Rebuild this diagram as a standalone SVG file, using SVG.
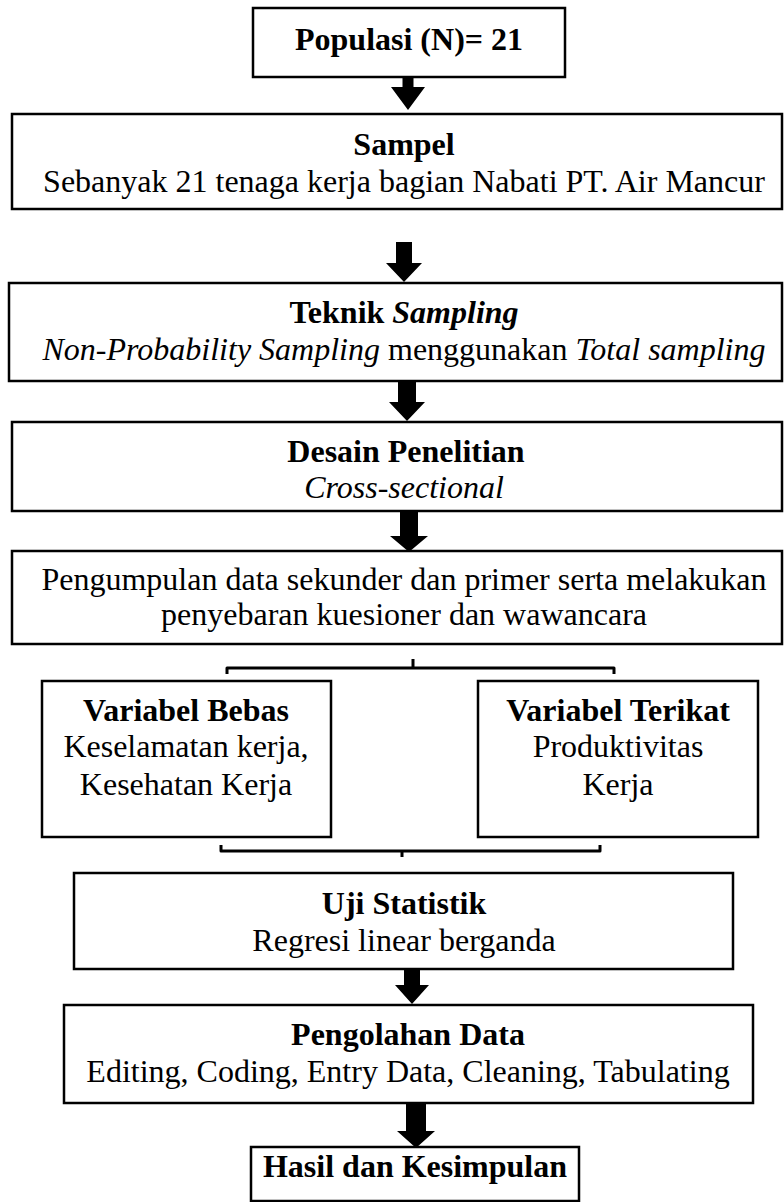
<svg xmlns="http://www.w3.org/2000/svg" width="784" height="1202" viewBox="0 0 784 1202">
<style>
.box{fill:#fff;stroke:#000;stroke-width:2.5}
.t{font-family:"Liberation Serif","Times New Roman",serif;font-size:32px;fill:#000;text-anchor:middle}
.b{font-weight:bold}
.i{font-style:italic}
.arr{fill:#000}
.br{fill:none;stroke:#000;stroke-width:3;stroke-linejoin:round}
</style>
<rect width="784" height="1202" fill="#fff"/>
<g id="n1"><rect class="box" x="253" y="8" width="312" height="69"/><text class="t b" x="409" y="50">Populasi (N)= 21</text></g>
<g id="n2"><rect class="box" x="12" y="114" width="770" height="95"/><text class="t b" x="404" y="155">Sampel</text><text class="t" x="404" y="192">Sebanyak 21 tenaga kerja bagian Nabati PT. Air Mancur</text></g>
<g id="n3"><rect class="box" x="9" y="283" width="773" height="98"/><text class="t b" x="404" y="323">Teknik <tspan class="i">Sampling</tspan></text><text class="t" x="404" y="360"><tspan class="i">Non-Probability Sampling</tspan> menggunakan <tspan class="i">Total sampling</tspan></text></g>
<g id="n4"><rect class="box" x="12" y="422" width="770" height="89"/><text class="t b" x="406" y="462">Desain Penelitian</text><text class="t i" x="404" y="498">Cross-sectional</text></g>
<g id="n5"><rect class="box" x="12" y="551" width="770" height="93"/><text class="t" x="404" y="590">Pengumpulan data sekunder dan primer serta melakukan</text><text class="t" x="404" y="625">penyebaran kuesioner dan wawancara</text></g>
<g id="n6"><rect class="box" x="42" y="681" width="289" height="156"/><text class="t b" x="186" y="721">Variabel Bebas</text><text class="t" x="186" y="757">Keselamatan kerja,</text><text class="t" x="186" y="795">Kesehatan Kerja</text></g>
<g id="n7"><rect class="box" x="478" y="681" width="280" height="156"/><text class="t b" x="618" y="721">Variabel Terikat</text><text class="t" x="618" y="757">Produktivitas</text><text class="t" x="618" y="795">Kerja</text></g>
<g id="n8"><rect class="box" x="74" y="873" width="659" height="96"/><text class="t b" x="404" y="914">Uji Statistik</text><text class="t" x="404" y="951">Regresi linear berganda</text></g>
<g id="n9"><rect class="box" x="64" y="1005" width="689" height="98"/><text class="t b" x="408" y="1045">Pengolahan Data</text><text class="t" x="408" y="1082">Editing, Coding, Entry Data, Cleaning, Tabulating</text></g>
<g id="n10"><rect class="box" x="251" y="1147" width="328" height="54"/><text class="t b" x="415" y="1177">Hasil dan Kesimpulan</text></g>
<g id="connectors">
<polygon class="arr" points="402.5,77 413.5,77 413.5,87 425,87 408,110 391,87 402.5,87"/>
<polygon class="arr" points="396,242 412,242 412,263 422,263 404,282 386,263 396,263"/>
<polygon class="arr" points="398,381 416,381 416,402 425,402 407,421 389,402 398,402"/>
<polygon class="arr" points="400,511 418,511 418,536 428,536 409,552 390,536 400,536"/>
<polygon class="arr" points="404,969 420,969 420,985 429,985 412,1004 395,985 404,985"/>
<polygon class="arr" points="406,1103 426,1103 426,1131 435,1131 416,1148 397,1131 406,1131"/>
<path class="br" d="M227,674 L227,668 L614,668 L614,674 M413,659 L413,668"/>
<path class="br" d="M221,845 L221,851 L600,851 L600,845 M402,851 L402,857"/>
</g>
</svg>
